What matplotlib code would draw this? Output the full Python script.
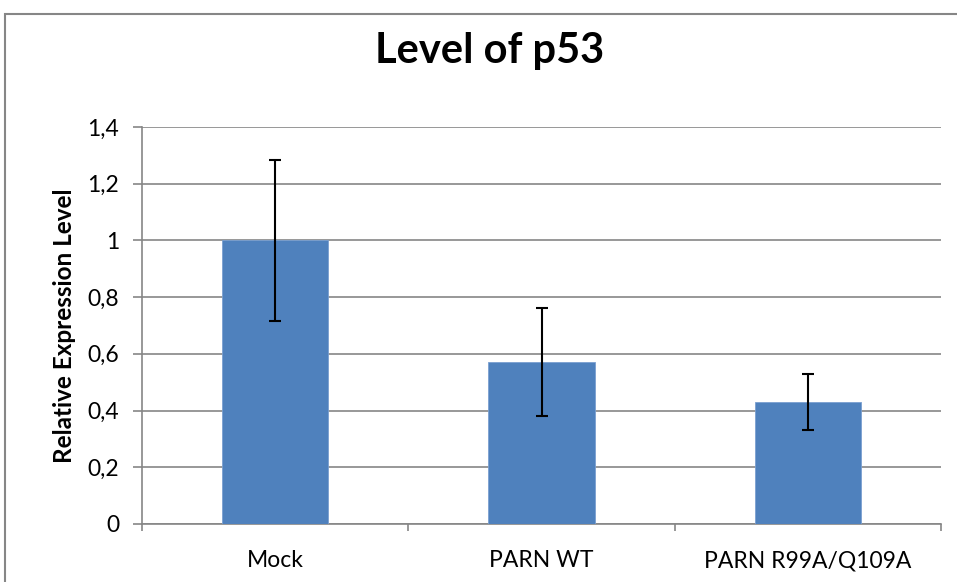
import matplotlib.pyplot as plt
import numpy as np
from matplotlib.patches import Rectangle
from matplotlib.ticker import FuncFormatter

# data
categories = ["Mock", "PARN WT", "PARN R99A/Q109A"]
levels = [1.0, 0.57, 0.43]
errors = [0.285, 0.19, 0.10]

plt.rcParams['font.family'] = ['Lato', 'DejaVu Sans']

fig = plt.figure(figsize=(9.57, 5.82), dpi=100)
ax = fig.add_axes([0.1484, 0.0997, 0.8349, 0.6821])

x = np.arange(len(categories))
ax.bar(x, levels, width=0.4, color='#4f81bd', edgecolor='#7a9fd0', linewidth=0.6,
       zorder=3)
ax.errorbar(x, levels, yerr=errors, fmt='none', ecolor='black', elinewidth=1.5,
            capsize=4.3, capthick=1.5, zorder=4)

ax.set_xlim(-0.5, len(categories) - 0.5)
ax.set_ylim(0, 1.4)
ax.set_yticks(np.arange(0, 1.41, 0.2))
ax.yaxis.set_major_formatter(FuncFormatter(
    lambda v, p: '0' if abs(v) < 1e-9 else ('1' if abs(v - 1) < 1e-9 else f'{v:.1f}'.replace('.', ','))))
ax.yaxis.grid(True, color='#868686', linewidth=1.2, zorder=0)

# category ticks between groups, labels centred
ax.set_xticks(np.arange(-0.5, len(categories), 1.0))
ax.set_xticklabels([])
ax.set_xticks(x, minor=True)
ax.set_xticklabels(categories, minor=True, fontsize=16.5)
ax.tick_params(axis='x', which='minor', length=0, pad=19)
ax.tick_params(axis='x', which='major', length=5, color='#868686', width=1.2)
ax.tick_params(axis='y', length=6.5, color='#868686', width=1.2, labelsize=16.5, pad=10)

for s in ['top', 'right']:
    ax.spines[s].set_visible(False)
for s in ['left', 'bottom']:
    ax.spines[s].set_color('#868686')
    ax.spines[s].set_linewidth(1.2)

ax.set_ylabel('Relative Expression Level', fontsize=17.5, fontweight='bold', labelpad=8)
fig.text(0.512, 0.912, 'Level of p53', ha='center', va='center', fontsize=30,
         fontweight='bold')

# chart area border
fig.patches.append(Rectangle((5 / 957, -0.05), 1.0, 1 - 14 / 582 + 0.05,
                             transform=fig.transFigure, fill=False,
                             edgecolor='#868686', linewidth=1.5))

fig.savefig('out.png', dpi=100)
